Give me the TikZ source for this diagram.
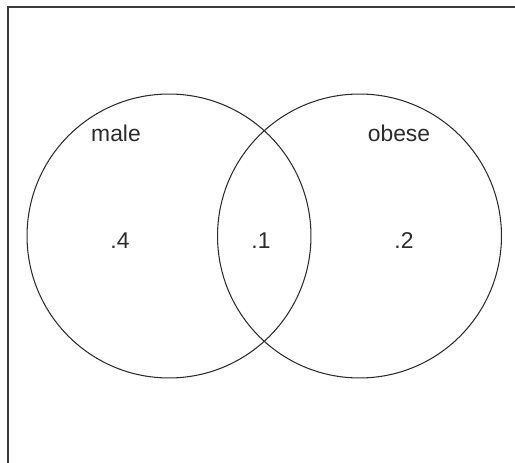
\documentclass[tikz,border=0pt]{standalone}
\usepackage{fontspec}
\setmainfont{Liberation Sans}
\usetikzlibrary{positioning}
\definecolor{Ink}{HTML}{2B2B2B}
\definecolor{Frame}{HTML}{3A3A3A}

\begin{document}
\begin{tikzpicture}[x=0.02cm,y=-0.02cm,
        setcirc/.style={circle,draw=Ink,line width=0.6pt,minimum size=5.68cm,inner sep=0pt},
        setlab/.style={font=\fontsize{13}{15}\selectfont,text=Ink,inner sep=0pt},
        frm/.style={draw=Frame,line width=0.9pt}]
        \useasboundingbox (0,0) rectangle (515,463);
        % partial frame of the scan
        \coordinate (fbl) at (8,463);
        \coordinate (ftr) at (515,7);
        \draw[frm] (fbl) |- (ftr);
        % the two sets
        \node[setcirc] (male) at (169,236) {};
        \node[setcirc] (obese) at (359.5,236) {};
        \node[setlab] (malename) at (116,133) {male};
        \node[setlab] (obesename) at (399,133) {obese};
        \node[setlab] (pmale) at (120,241) {.4};
        \node[setlab] (pboth) at (261,241) {.1};
        \node[setlab] (pobese) at (404,241) {.2};
      \end{tikzpicture}
\end{document}
